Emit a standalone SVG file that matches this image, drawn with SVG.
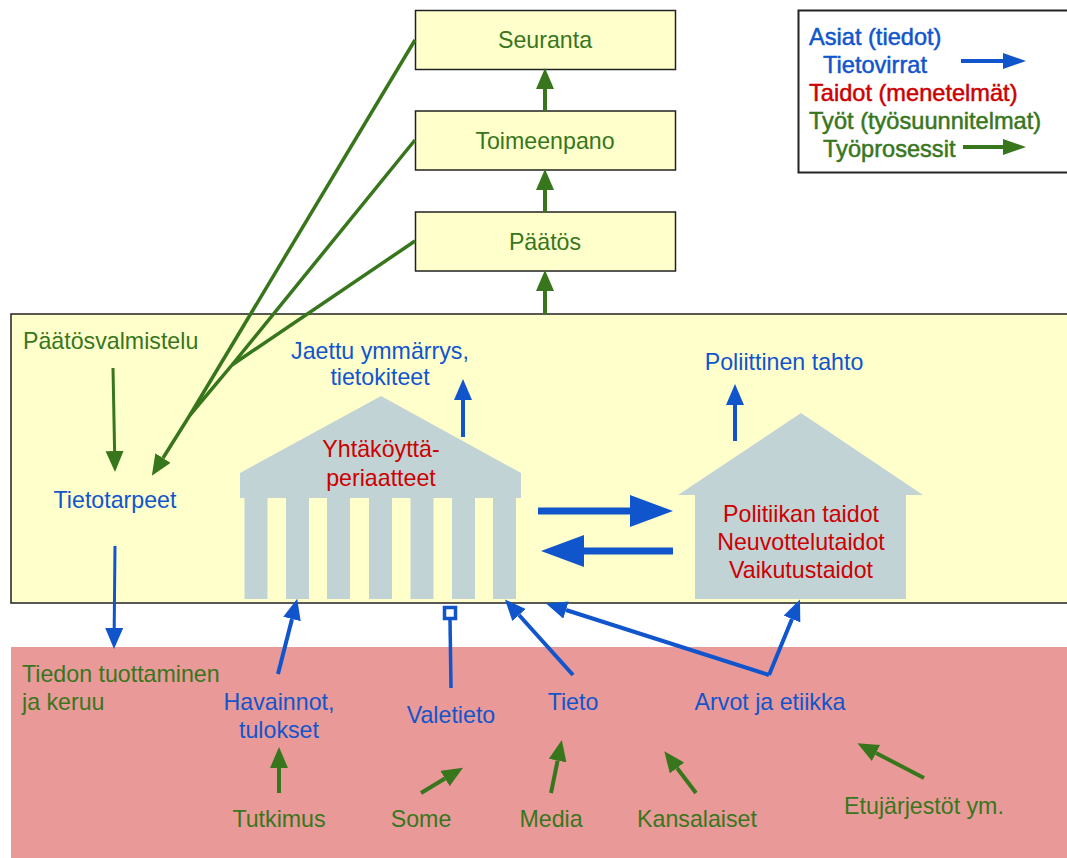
<svg xmlns="http://www.w3.org/2000/svg" width="1067" height="858" viewBox="0 0 1067 858">
<style>
text{font-family:"Liberation Sans",Arial,sans-serif;font-size:23.2px;text-anchor:middle}
.g{fill:#38761d}.b{fill:#1155cc}.r{fill:#cc0000}
.box{fill:#ffffcc;stroke:#222;stroke-width:1.5}
.sh{fill:#c2d3d6}
.lb{stroke:#1155cc;fill:none}.lg{stroke:#38761d;fill:none}
.l{text-anchor:start}
#legend text{font-size:23.6px;stroke-width:.5px}
#legend .b{stroke:#1155cc}#legend .r{stroke:#cc0000}#legend .g{stroke:#38761d}
</style>
<defs>
<marker id="ab" markerUnits="userSpaceOnUse" markerWidth="23" markerHeight="19" refX="0" refY="9" orient="auto"><path d="M0 0L21 9L0 18z" fill="#1155cc"/></marker>
<marker id="abl" markerUnits="userSpaceOnUse" markerWidth="46" markerHeight="34" refX="0" refY="16" orient="auto"><path d="M0 0L43 16L0 32z" fill="#1155cc"/></marker>
<marker id="ag" markerUnits="userSpaceOnUse" markerWidth="23" markerHeight="19" refX="0" refY="9" orient="auto"><path d="M0 0L21 9L0 18z" fill="#38761d"/></marker>
</defs>
<g id="band-yellow"><rect class="box" x="11" y="314" width="1070" height="289"/></g>
<g id="band-red"><rect x="11" y="647" width="1056" height="211" fill="#ea9999"/></g>
<g id="node-seuranta"><rect class="box" x="415.500" y="10.500" width="260" height="59"/><text class="g" x="545" y="48">Seuranta</text></g>
<g id="node-toimeenpano"><rect class="box" x="415.500" y="111" width="260" height="59"/><text class="g" x="545" y="149">Toimeenpano</text></g>
<g id="node-paatos"><rect class="box" x="415.500" y="212" width="260" height="59"/><text class="g" x="545" y="250">Päätös</text></g>
<g id="legend"><rect x="798.500" y="10.500" width="280" height="162" fill="#fff" stroke="#222" stroke-width="2"/>
<text class="b l" x="809" y="45">Asiat (tiedot)</text>
<text class="b l" x="823" y="73">Tietovirrat</text>
<text class="r l" x="809" y="101">Taidot (menetelmät)</text>
<text class="g l" x="809" y="129">Työt (työsuunnitelmat)</text>
<text class="g l" x="823" y="157">Työprosessit</text></g>
<g id="temple"><path class="sh" d="M381 396L521 473V498H240V473z"/>
<rect class="sh" x="244.500" y="498" width="23" height="101"/><rect class="sh" x="286" y="498" width="23" height="101"/><rect class="sh" x="327" y="498" width="23" height="101"/><rect class="sh" x="369" y="498" width="23" height="101"/><rect class="sh" x="410.500" y="498" width="23" height="101"/><rect class="sh" x="452" y="498" width="23" height="101"/><rect class="sh" x="493" y="498" width="23" height="101"/>
<text class="r" x="381" y="457">Yhtäköyttä-</text><text class="r" x="381" y="486">periaatteet</text></g>
<g id="house"><path class="sh" d="M801 413L923 495H906V599H695V495H678z"/>
<text class="r" x="801" y="522">Politiikan taidot</text><text class="r" x="801" y="550">Neuvottelutaidot</text><text class="r" x="801" y="578">Vaikutustaidot</text></g>
<g id="labels">
<text class="g l" x="23" y="349">Päätösvalmistelu</text>
<text class="b" x="115" y="508">Tietotarpeet</text>
<text class="b" x="380" y="359">Jaettu ymmärrys,</text><text class="b" x="380" y="385">tietokiteet</text>
<text class="b" x="784" y="370">Poliittinen tahto</text>
<text class="g l" x="22" y="682">Tiedon tuottaminen</text><text class="g l" x="22" y="710">ja keruu</text>
<text class="b" x="279" y="710">Havainnot,</text><text class="b" x="279" y="738">tulokset</text>
<text class="b" x="451" y="723">Valetieto</text>
<text class="b" x="573" y="710">Tieto</text>
<text class="b" x="770" y="710">Arvot ja etiikka</text>
<text class="g" x="279" y="827">Tutkimus</text>
<text class="g" x="421" y="827">Some</text>
<text class="g" x="551" y="827">Media</text>
<text class="g" x="697" y="827">Kansalaiset</text>
<text class="g" x="924" y="814">Etujärjestöt ym.</text>
</g>
<g id="connectors" stroke-width="4">
<path class="lg" d="M545 111V89" marker-end="url(#ag)"/>
<path class="lg" d="M545 212V190" marker-end="url(#ag)"/>
<path class="lg" d="M545 314V291" marker-end="url(#ag)"/>
<path class="lg" d="M415 40L190 415L163 458" stroke-width="3.500" marker-end="url(#ag)"/>
<path class="lg" d="M415 140L232 365L190 415" stroke-width="3.500"/>
<path class="lg" d="M415 241L232 365" stroke-width="3.500"/>
<path class="lg" d="M113 368L114.600 451" stroke-width="3" marker-end="url(#ag)"/>
<path class="lb" d="M115 546L114.200 628" stroke-width="3" marker-end="url(#ab)"/>
<path class="lb" d="M463 437V400" marker-end="url(#ab)"/>
<path class="lb" d="M735 441V405" marker-end="url(#ab)"/>
<path class="lb" d="M538 511H630" stroke-width="7" marker-end="url(#abl)"/>
<path class="lb" d="M673 551H584" stroke-width="7" marker-end="url(#abl)"/>
<path class="lb" d="M278 674L292 619" marker-end="url(#ab)"/>
<path class="lb" d="M451 688L450 619" stroke-width="3.500"/>
<rect x="444.500" y="607.500" width="11" height="11" fill="#fff" stroke="#1155cc" stroke-width="3.500"/>
<path class="lb" d="M573 675L519 615" marker-end="url(#ab)"/>
<path class="lb" d="M769 675L566 610" marker-end="url(#ab)"/>
<path class="lb" d="M769 675L792 619" marker-end="url(#ab)"/>
<path class="lg" d="M279 793V768" marker-end="url(#ag)"/>
<path class="lg" d="M421 793L445 778.500" marker-end="url(#ag)"/>
<path class="lg" d="M551 793L557.600 760.600" marker-end="url(#ag)"/>
<path class="lg" d="M696 793L677 768" marker-end="url(#ag)"/>
<path class="lg" d="M924 778L876 753" marker-end="url(#ag)"/>
<path class="lb" d="M961 61L1003 61"/>
<path d="M1003 53L1026 61L1003 69z" fill="#1155cc"/>
<path class="lg" d="M963 147L1003 147"/>
<path d="M1003 139L1026 147L1003 155z" fill="#38761d"/>
</g>
</svg>
